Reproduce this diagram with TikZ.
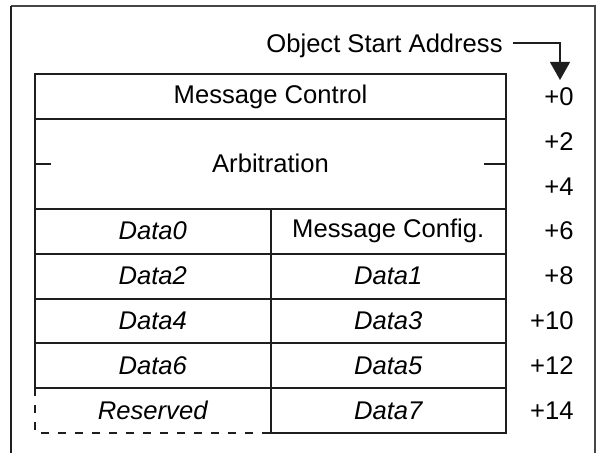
\documentclass[tikz,border=0pt]{standalone}
\usepackage{fontspec}
\setmainfont{Liberation Sans}
\usetikzlibrary{positioning,arrows.meta,calc}
\definecolor{trazo}{RGB}{30,30,30}
\definecolor{marcogris}{RGB}{70,70,70}

\begin{document}
\begin{tikzpicture}[x=0.5pt, y=-0.5pt,
  celda/.style={draw=trazo, line width=1pt, inner sep=0pt, outer sep=0pt,
               minimum width=117.75pt, minimum height=22.45pt, align=center,
               font=\fontsize{12.8}{15}\selectfont\itshape},
  ancha/.style={celda, minimum width=235.5pt, font=\fontsize{12.8}{15}\selectfont},
  desp/.style={anchor=east, inner sep=0pt, font=\fontsize{12.8}{15}\selectfont},
  flecha/.style={-{Triangle[length=9pt, width=10pt]}, line width=0.6pt, color=trazo}]
  \useasboundingbox (0,0) rectangle (597,453);
  % marco exterior
  \draw[line width=0.9pt, marcogris] (11,6) -- (595,6) -- (595,453);
  \draw[line width=1.2pt, trazo] (11,453) -- (11,6);
  % tabla del objeto
  \node[ancha, anchor=north west] (ctrl) at (35,74) {Message Control};
  \node[ancha, minimum height=44.9pt, below=0pt of ctrl] (arb) {Arbitration};
  \node[celda, below=0pt of arb.south west, anchor=north west] (d0) {Data0};
  \node[celda, right=0pt of d0, font=\fontsize{12.8}{15}\selectfont] (cfg) {Message Config.};
  \node[celda, below=0pt of d0] (d2) {Data2};
  \node[celda, below=0pt of cfg] (d1) {Data1};
  \node[celda, below=0pt of d2] (d4) {Data4};
  \node[celda, below=0pt of d1] (d3) {Data3};
  \node[celda, below=0pt of d4] (d6) {Data6};
  \node[celda, below=0pt of d3] (d5) {Data5};
  \node[celda, draw=none, below=0pt of d6] (res) {Reserved};
  \node[celda, below=0pt of d5] (d7) {Data7};
  \draw[line width=1pt, trazo, dash pattern=on 4pt off 4.5pt]
    (res.north west) -- (res.south west) -- (res.south east);
  \draw[line width=1pt, trazo] (arb.west) -- ++(16,0);
  \draw[line width=1pt, trazo] (arb.east) -- ++(-22,0);
  % desplazamientos
  \coordinate (col) at (574,0);
  \coordinate (a2) at ($(arb.north)!0.25!(arb.south)$);
  \coordinate (a4) at ($(arb.north)!0.75!(arb.south)$);
  \node[desp] (o0) at (col |- ctrl) {+0};
  \node[desp] (o2) at (col |- a2) {+2};
  \node[desp] (o4) at (col |- a4) {+4};
  \node[desp] (o6) at (col |- d0) {+6};
  \node[desp] (o8) at (col |- d2) {+8};
  \node[desp] (o10) at (col |- d4) {+10};
  \node[desp] (o12) at (col |- d6) {+12};
  \node[desp] (o14) at (col |- res) {+14};
  % direccion de inicio
  \node[desp, inner xsep=5pt, text depth=0pt] (osa) at (513,43) {Object Start Address};
  \coordinate (punta) at (560,80);
  \draw[flecha] (osa.east) -| (punta);
\end{tikzpicture}
\end{document}
